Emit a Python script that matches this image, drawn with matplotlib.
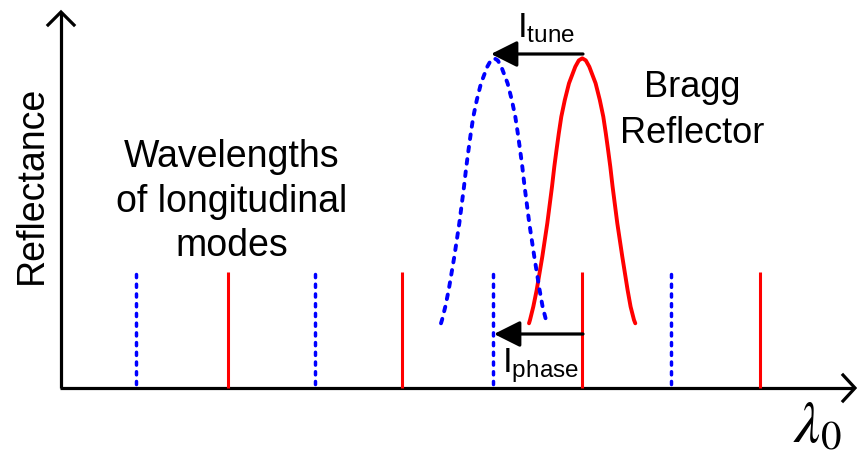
import matplotlib
matplotlib.use("Agg")
import matplotlib.pyplot as plt

plt.rcParams['font.family'] = ['Liberation Sans', 'DejaVu Sans']
plt.rcParams['mathtext.fontset'] = 'custom'
plt.rcParams['mathtext.rm'] = 'Liberation Sans'
plt.rcParams['mathtext.it'] = 'Liberation Sans:italic'

# ---- data (in pixel-like schematic units, y downward) ----
red_modes = [228, 402, 582, 760]
blue_modes = [136, 315, 493, 671]
mode_top = 272
axis_y = 388
axis_x = 61

# Bragg reflector curve (red)
red_x = [529, 530, 533.3, 536.7, 542.3, 547.3, 552, 554.3, 556.5, 558.8, 561.3,
         564.8, 569, 575.3, 578.8, 582.3, 585.8, 589.3, 595.6, 599.8, 603.3,
         605.8, 608.1, 610.3, 612.6, 617.3, 622.3, 627.6, 630.6, 634, 635.3]
red_y = [323.3, 320, 306.7, 290, 256.7, 223.3, 186.7, 166.7, 150, 133.3, 116.7,
         100, 83.3, 66.7, 60.4, 58.3, 60.4, 66.7, 83.3, 100, 116.7,
         133.3, 150, 166.7, 186.7, 223.3, 256.7, 290, 306.7, 320, 323.3]

# tuned reflector curve (blue dotted)
blue_x = [441, 442, 445.3, 448.7, 454.3, 459.3, 464, 466.3, 468.5, 470.8, 473.3,
          476.8, 481, 487.3, 490.8, 494.3, 497.8, 501.3, 507.6, 511.8, 515.3,
          517.8, 520.1, 522.3, 524.6, 529.3, 534.3, 539.6, 542.6, 546, 547.3]
blue_y = red_y

W, H = 857, 458
fig = plt.figure(figsize=(W / 100, H / 100), dpi=100)
ax = fig.add_axes([0, 0, 1, 1])
ax.set_xlim(0, W)
ax.set_ylim(H, 0)
ax.axis('off')

lw_axis = 2.3
# axes with open arrowheads
ax.plot([axis_x, axis_x], [axis_y, 12], color='black', lw=lw_axis, solid_capstyle='butt')
ax.plot([axis_x - 1, 854], [axis_y, axis_y], color='black', lw=lw_axis, solid_capstyle='butt')
ax.plot([48, axis_x, 74], [25, 12, 25], color='black', lw=lw_axis, solid_joinstyle='miter')
ax.plot([843, 855, 843], [375, axis_y, 401], color='black', lw=lw_axis, solid_joinstyle='miter')

# longitudinal modes
for x in red_modes:
    ax.plot([x, x], [mode_top, axis_y], color='red', lw=2.2, solid_capstyle='butt')
for x in blue_modes:
    ax.plot([x, x], [mode_top + 2, axis_y], color='blue', lw=2.5,
            linestyle=(0, (0.9, 1.9)), dash_capstyle='round')

# reflector curves
ax.plot(red_x, red_y, color='red', lw=2.8, solid_capstyle='round',
        solid_joinstyle='round')
ax.plot(blue_x, blue_y, color='blue', lw=2.8, linestyle=(0, (1.2, 2.0)),
        dash_capstyle='round', dash_joinstyle='round')

# arrows
arrow_kw = dict(arrowstyle='-|>,head_length=0.8,head_width=0.4', color='black',
                lw=2.3, shrinkA=0, shrinkB=0, mutation_scale=20)
ax.annotate('', xy=(491, 54), xytext=(583, 54), arrowprops=arrow_kw)
ax.annotate('', xy=(494, 334), xytext=(583, 334), arrowprops=arrow_kw)

ax.text(517, 37, r'$\mathregular{I_{tune}}$', fontsize=25, ha='left', va='baseline')
ax.text(502, 372, r'$\mathregular{I_{phase}}$', fontsize=25, ha='left', va='baseline')

for txt, yb in [('Wavelengths', 166.7), ('of longitudinal', 211.7), ('modes', 256)]:
    ax.text(231.5, yb, txt, fontsize=27, ha='center', va='baseline')
for txt, yb in [('Bragg', 97.3), ('Reflector', 143.3)]:
    ax.text(692, yb, txt, fontsize=26, ha='center', va='baseline')

ax.text(42, 184.5, 'Reflectance', fontsize=27, rotation=90, ha='center', va='baseline',
        rotation_mode='anchor')

ax.text(793, 443, r'$\lambda_0$', fontsize=42, ha='left', va='baseline',
        math_fontfamily='stix')

fig.savefig('out.png', dpi=100)
